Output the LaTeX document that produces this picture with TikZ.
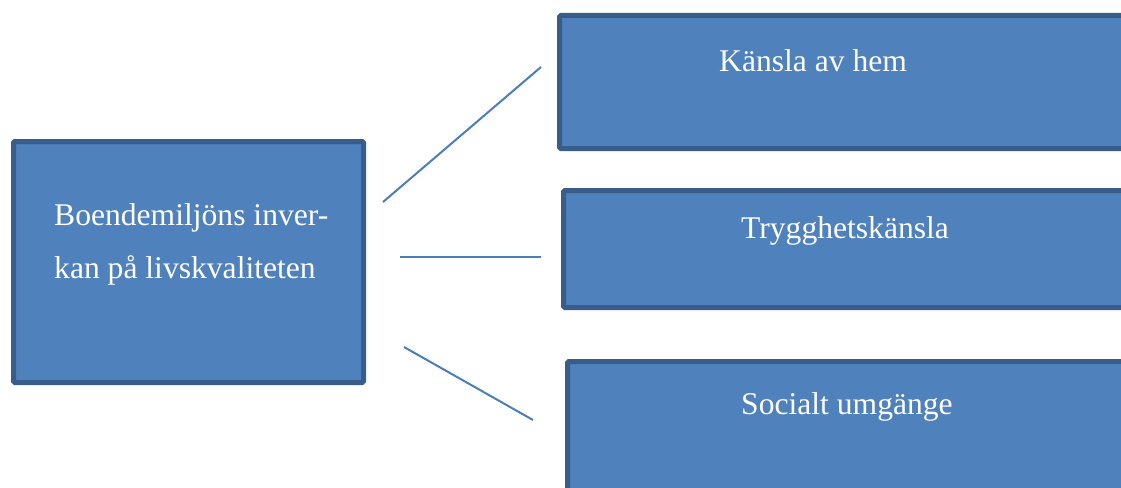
\documentclass[tikz,border=0pt]{standalone}
\usepackage{fontspec}
\setmainfont{Liberation Serif}
\definecolor{boxfill}{HTML}{4F81BD}
\definecolor{boxedge}{HTML}{385D8A}
\definecolor{linkcol}{HTML}{4A7EBB}
\tikzset{
  panel/.style={draw=boxedge, fill=boxfill, line width=5pt, rounded corners=1.5pt,
    anchor=north west, inner sep=0pt},
  label/.style={text=white, anchor=base west, inner sep=0pt,
    font=\fontsize{31.6}{38}\selectfont},
  link/.style={draw=linkcol, line width=2pt}
}
\begin{document}
\begin{tikzpicture}[x=1pt, y=-1pt]
\useasboundingbox (0,0) rectangle (1121,487);
\clip (0,0) rectangle (1121,487);

% boxes (anchored at the outer edge of the border)
\node[panel, minimum width=350pt, minimum height=241pt] (main) at (11,139) {};
\node[panel, minimum width=580pt, minimum height=133pt] (hem) at (557,13) {};
\node[panel, minimum width=580pt, minimum height=117pt] (trygg) at (561,188) {};
\node[panel, minimum width=580pt, minimum height=150pt] (social) at (565,359) {};

% box texts
\node[label] (mainA) at (54,225) {Boendemiljöns inver-};
\node[label] (mainB) at (54,278) {kan på livskvaliteten};
\node[label] (hemT) at (719,71) {Känsla av hem};
\node[label] (tryggT) at (741,238) {Trygghetskänsla};
\node[label] (socialT) at (741,414) {Socialt umgänge};

% connector end points
\coordinate (m1) at (383,202);
\coordinate (h1) at (541,67);
\coordinate (m2) at (400,257);
\coordinate (t2) at (541,257);
\coordinate (m3) at (404,347);
\coordinate (s3) at (533,420);

\draw[link] (m1) -- (h1);
\draw[link] (m2) -- (t2);
\draw[link] (m3) -- (s3);
\end{tikzpicture}
\end{document}
